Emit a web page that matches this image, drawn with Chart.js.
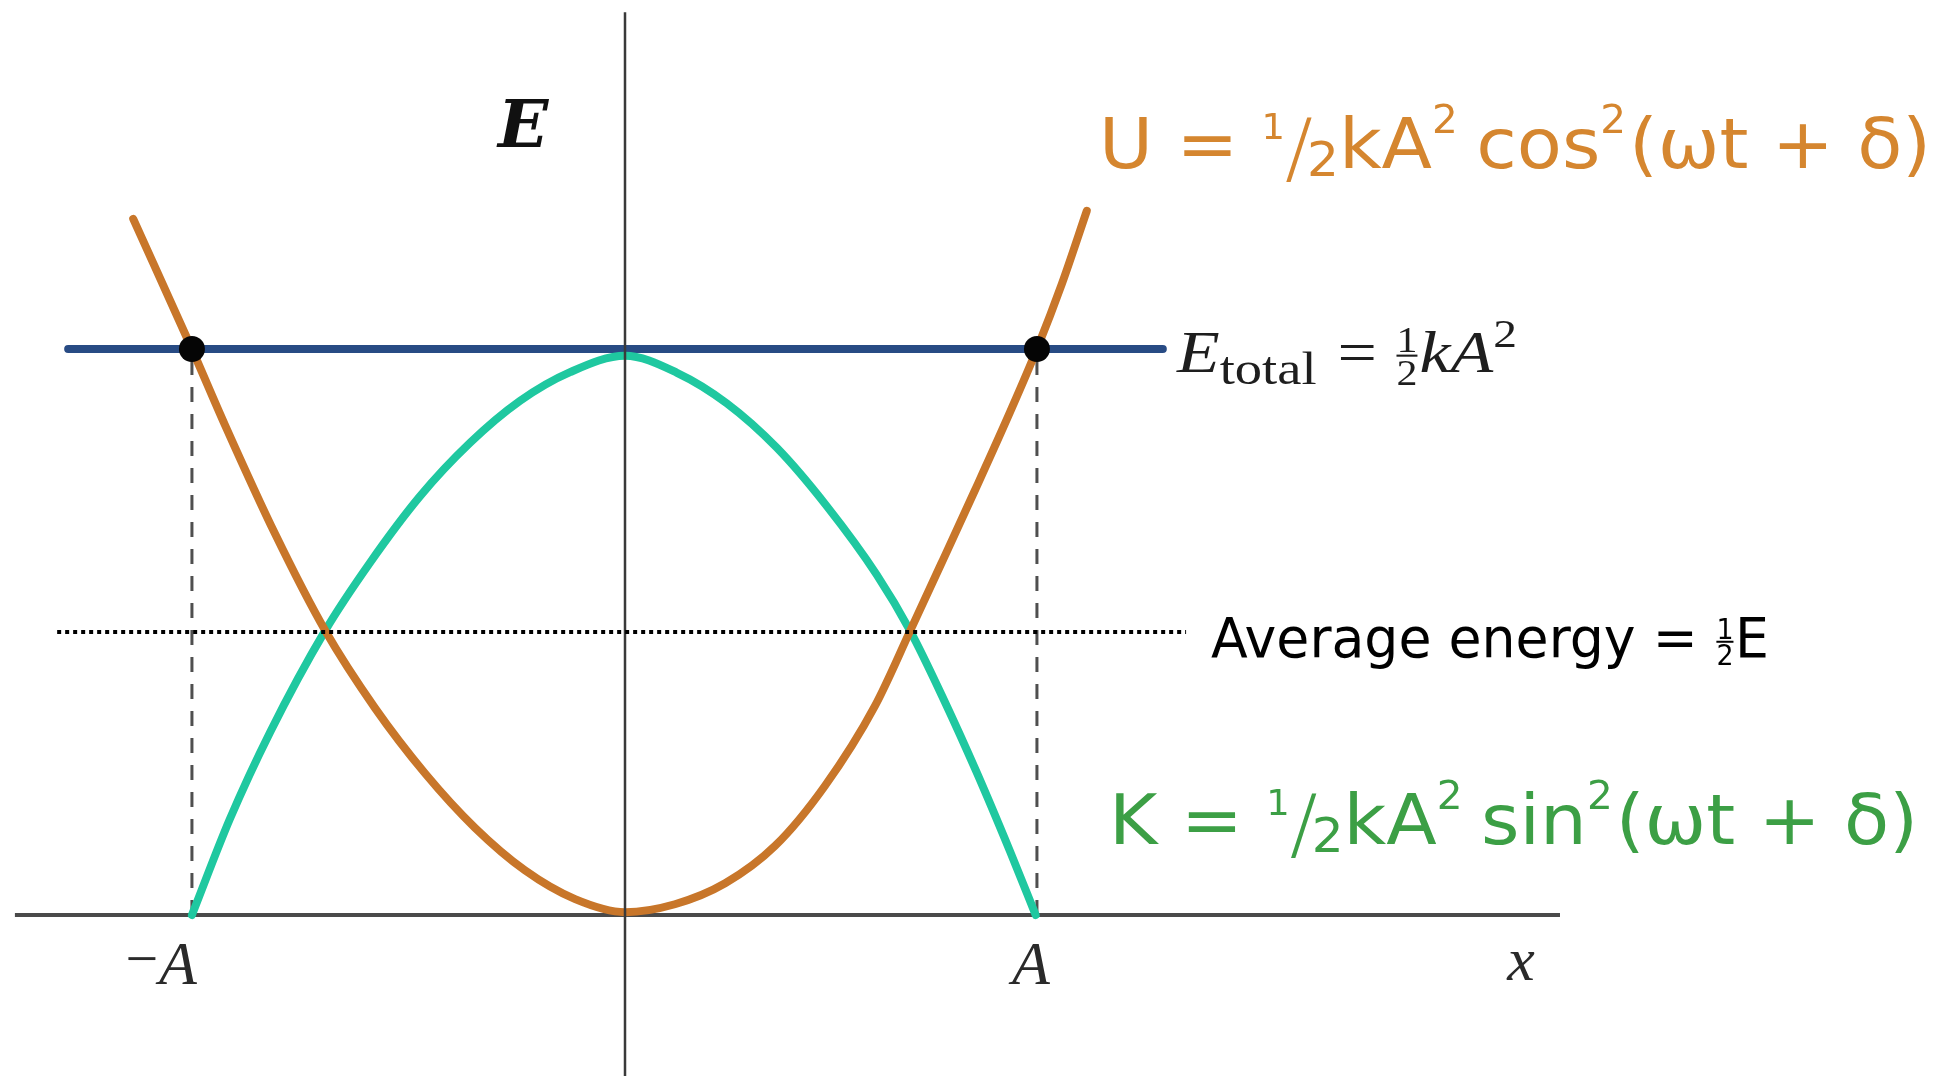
<!DOCTYPE html>
<html>
<head>
<meta charset="utf-8">
<script src="https://cdn.jsdelivr.net/npm/chart.js@4.4.0/dist/chart.umd.min.js"></script>
<style>
  html, body { margin: 0; padding: 0; background: #ffffff; }
  #wrap { width: 1947px; height: 1076px; }
  canvas { display: block; }
</style>
</head>
<body>
<div id="wrap"><canvas id="c" width="1947" height="1076"></canvas></div>
<script>
// ---- data (x in units of A, y in units of E_total) ----
const ampNeg = -1.025;          // position of -A
const ampPos = 0.975;           // position of A
const eTotal = 1.0;
const eAverage = 0.5;

// Potential energy U (orange)
const uX = [-1.164, -1.025, -0.947, -0.828, -0.710, -0.592, -0.473, -0.355, -0.237, -0.118, 0.000,
            0.118, 0.237, 0.355, 0.473, 0.592, 0.675, 0.753, 0.828, 0.911, 0.975, 1.034, 1.093];
const uY = [1.230, 1.000, 0.866, 0.673, 0.503, 0.366, 0.250, 0.154, 0.079, 0.028, 0.005,
            0.019, 0.056, 0.122, 0.228, 0.370, 0.502, 0.628, 0.750, 0.888, 1.000, 1.115, 1.244];

// Kinetic energy K (teal)
const kX = [-1.025, -0.935, -0.840, -0.710, -0.604, -0.485, -0.367, -0.249, -0.130, 0.000,
            0.123, 0.241, 0.360, 0.478, 0.596, 0.675, 0.753, 0.833, 0.911, 0.972];
const kY = [0.000, 0.170, 0.323, 0.502, 0.622, 0.740, 0.834, 0.908, 0.959, 0.988,
            0.958, 0.904, 0.825, 0.722, 0.601, 0.502, 0.383, 0.251, 0.113, 0.000];

// Extents of the horizontal guide lines and axes
const eTotalX = [-1.318, 1.273];
const averageX = [-1.344, 1.328];
const xAxisX = [-1.444, 2.213];
const yAxisY = [-0.285, 1.595];

// Tick labels
const tickLabels = ['\u2212A', 'A'];
const axisNameX = 'x';
const axisNameY = 'E';

// ---- layout (pixel mapping of the reference) ----
const W = 1947, H = 1076;
const originPx = 625, pxPerX = 422.5;
const baselinePx = 915, pxPerY = 566;

const pts = (xs, ys) => xs.map((x, i) => ({ x: x, y: ys[i] }));

const lineDS = (label, data, color, width, order, extra) => Object.assign({
  label: label, data: data, showLine: true, borderColor: color, backgroundColor: color,
  borderWidth: width, pointRadius: 0, pointHoverRadius: 0, fill: false, order: order,
  borderCapStyle: 'butt'
}, extra || {});

const datasets = [
  { label: 'turning points', data: [{ x: ampNeg, y: eTotal }, { x: ampPos, y: eTotal }],
    showLine: false, pointRadius: 13, pointHoverRadius: 13, backgroundColor: '#050505',
    borderColor: '#050505', borderWidth: 0, order: 0 },
  lineDS('average', pts(averageX, [eAverage, eAverage]), '#000000', 4, 1, { borderDash: [4, 4] }),
  lineDS('E axis', [{ x: 0, y: yAxisY[0] }, { x: 0, y: yAxisY[1] }], '#3a3a3a', 2.5, 2),
  lineDS('U', pts(uX, uY), '#c8762a', 8, 3, { cubicInterpolationMode: 'monotone', borderCapStyle: 'round' }),
  lineDS('K', pts(kX, kY), '#1fc8a0', 8, 4, { cubicInterpolationMode: 'monotone', borderCapStyle: 'round' }),
  lineDS('E total', pts(eTotalX, [eTotal, eTotal]), '#284b84', 8, 5, { borderCapStyle: 'round' }),
  lineDS('-A guide', [{ x: ampNeg, y: 0 }, { x: ampNeg, y: eTotal }], '#4f4f4f', 3, 6, { borderDash: [15, 12] }),
  lineDS('A guide', [{ x: ampPos, y: 0 }, { x: ampPos, y: eTotal }], '#4f4f4f', 3, 7, { borderDash: [15, 12] }),
  lineDS('x axis', [{ x: xAxisX[0], y: 0 }, { x: xAxisX[1], y: 0 }], '#4a4a4a', 4, 8)
];

// ---- text helper: draws a list of runs, optionally squeezed to a target width ----
function measureRun(ctx, r, base, family, style) {
  if (r.frac) {
    const fs = base * (r.s || 0.5);
    ctx.font = `${r.st || style} ${fs}px ${family}`;
    return Math.max(ctx.measureText(r.frac[0]).width, ctx.measureText(r.frac[1]).width) + base * 0.06;
  }
  ctx.font = `${r.st || style} ${base * (r.s || 1)}px ${family}`;
  return ctx.measureText(r.t).width;
}
function drawRuns(ctx, runs, x, baseline, base, family, style, color, targetW) {
  let total = 0;
  runs.forEach(r => { r._w = measureRun(ctx, r, base, family, style); total += r._w + (r.k || 0) * base; });
  const sx = targetW ? targetW / total : 1;
  ctx.save();
  ctx.translate(x, baseline);
  ctx.scale(sx, 1);
  ctx.fillStyle = color;
  ctx.textBaseline = 'alphabetic';
  ctx.textAlign = 'left';
  let cx = 0;
  runs.forEach(r => {
    if (r.frac) {
      const fs = base * (r.s || 0.5);
      ctx.font = `${r.st || style} ${fs}px ${family}`;
      const barY = -0.27 * base;
      const mid = cx + r._w / 2;
      ctx.textAlign = 'center';
      ctx.fillText(r.frac[0], mid, barY - 0.06 * base);
      ctx.fillText(r.frac[1], mid, barY + 0.06 * base + 0.72 * fs);
      ctx.fillRect(cx + base * 0.03, barY - base * 0.02, r._w - base * 0.06, Math.max(2, base * 0.035));
      ctx.textAlign = 'left';
    } else {
      ctx.font = `${r.st || style} ${base * (r.s || 1)}px ${family}`;
      ctx.fillText(r.t, cx, (r.dy || 0) * base);
    }
    cx += r._w + (r.k || 0) * base;
  });
  ctx.restore();
}

const textPlugin = {
  id: 'texts',
  afterDraw(chart) {
    const ctx = chart.ctx;
    const xs = chart.scales.x, ys = chart.scales.y;
    const serif = '"Liberation Serif", "DejaVu Serif", serif';
    const sans = '"DejaVu Sans", "Noto Sans", sans-serif';

    // E axis name
    ctx.save();
    ctx.fillStyle = '#111';
    ctx.font = 'bold italic 66px "DejaVu Serif", serif';
    ctx.textAlign = 'left';
    ctx.fillText(axisNameY, 498, 147);
    ctx.restore();

    // U and K formulas
    const trig = (name) => [
      { t: name + ' = ' },
      { t: '1', s: 0.5, dy: -0.42 },
      { t: '/', s: 1.12, dy: 0.1, k: -0.08, st: '200' },
      { t: '2', s: 0.68, dy: 0.12 },
      { t: 'kA' },
      { t: '2', s: 0.55, dy: -0.5, k: 0.25 },
    ];
    drawRuns(ctx, trig('U').concat([{ t: 'cos' }, { t: '2', s: 0.55, dy: -0.5, k: 0.04 }, { t: '(\u03C9t + \u03B4)' }]),
      1099, 168, 70, sans, 'normal', '#d5862f', 832);
    drawRuns(ctx, trig('K').concat([{ t: 'sin' }, { t: '2', s: 0.55, dy: -0.5, k: 0.04 }, { t: '(\u03C9t + \u03B4)' }]),
      1109, 844, 70, sans, 'normal', '#3c9f45', 809);

    // E_total label
    drawRuns(ctx, [
      { t: 'E', st: 'italic' },
      { t: 'total', s: 0.78, dy: 0.2, k: 0.05 },
      { t: ' = ' },
      { frac: ['1', '2'], s: 0.6 },
      { t: 'kA', st: 'italic' },
      { t: '2', s: 0.68, dy: -0.42 }
    ], 1177, ys.getPixelForValue(eTotal) + 23, 60, serif, 'normal', '#1e1e1e', 340);

    // Average energy label
    drawRuns(ctx, [
      { t: 'Average energy = ' },
      { frac: ['1', '2'], s: 0.5 },
      { t: 'E' }
    ], 1211, ys.getPixelForValue(eAverage) + 25, 56, sans, 'normal', '#000000', 558);

    // tick labels under the x axis
    ctx.save();
    ctx.fillStyle = '#2a2a2a';
    ctx.textAlign = 'center';
    const base = ys.getPixelForValue(0) + 69;
    ctx.font = 'normal 58px ' + serif;
    ctx.fillText('\u2212', xs.getPixelForValue(ampNeg) - 50, base - 6);
    ctx.font = 'italic 62px ' + serif;
    ctx.fillText(tickLabels[0].slice(1), xs.getPixelForValue(ampNeg) - 14, base);
    ctx.fillText(tickLabels[1], xs.getPixelForValue(ampPos) - 6, base);
    ctx.fillText(axisNameX, 1521, base - 4);
    ctx.restore();
  }
};

new Chart(document.getElementById('c'), {
  type: 'scatter',
  data: { datasets: datasets },
  options: {
    responsive: false,
    animation: false,
    devicePixelRatio: 1,
    layout: { padding: 0, autoPadding: false },
    plugins: { legend: { display: false }, tooltip: { enabled: false }, title: { display: false } },
    events: [],
    scales: {
      x: { type: 'linear', display: false, min: -originPx / pxPerX, max: (W - originPx) / pxPerX },
      y: { type: 'linear', display: false, min: -(H - baselinePx) / pxPerY, max: baselinePx / pxPerY }
    }
  },
  plugins: [textPlugin]
});
</script>
</body>
</html>
